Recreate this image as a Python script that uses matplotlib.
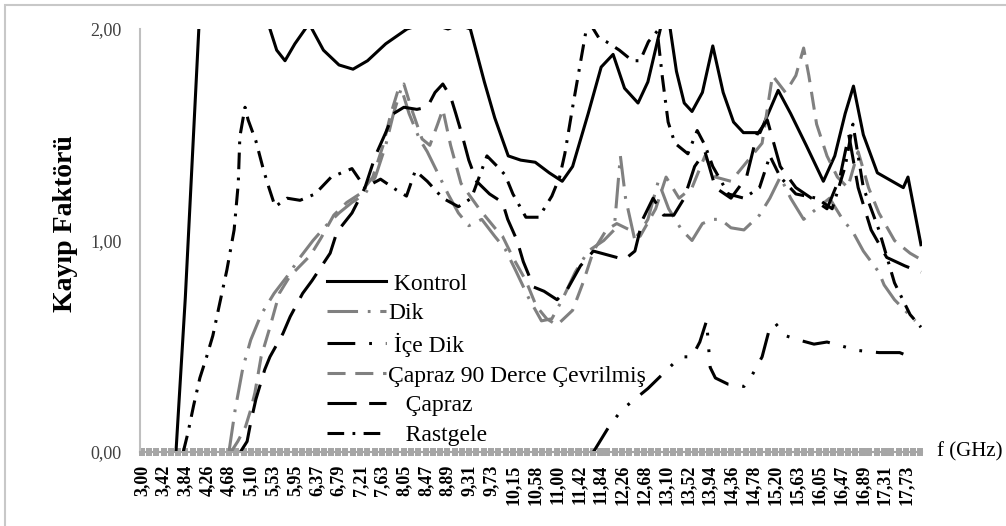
import matplotlib
matplotlib.use("Agg")
import matplotlib.pyplot as plt
from matplotlib.ticker import MultipleLocator
from matplotlib.patches import Rectangle

# values (frequency in GHz, loss factor)
kontrol_f = [3.66, 3.84, 4.10, 4.30, 4.80, 5.20, 5.47, 5.60, 5.76, 5.95,
             6.15, 6.22, 6.28, 6.50, 6.80, 7.07, 7.35, 7.70, 8.11, 8.50,
             8.90, 9.10, 9.33, 9.60, 9.80, 10.06, 10.30, 10.58, 10.85, 11.10,
             11.30, 11.60, 11.85, 12.08, 12.30, 12.56, 12.75, 12.99, 13.08, 13.18,
             13.30, 13.45, 13.60, 13.80, 14.00, 14.20, 14.40, 14.59, 14.91, 15.26,
             15.50, 15.80, 16.13, 16.35, 16.55, 16.71, 16.90, 17.17, 17.67, 17.76,
             18.01]
kontrol_v = [0.00, 0.73, 2.00, 2.60, 2.60, 2.30, 2.00, 1.90, 1.85, 1.93,
             2.00, 2.03, 2.00, 1.90, 1.83, 1.81, 1.85, 1.93, 2.00, 2.03,
             2.00, 2.02, 2.00, 1.75, 1.58, 1.40, 1.38, 1.37, 1.32, 1.28,
             1.35, 1.60, 1.82, 1.88, 1.72, 1.65, 1.75, 2.00, 2.10, 2.00,
             1.80, 1.65, 1.61, 1.70, 1.92, 1.70, 1.56, 1.51, 1.51, 1.71,
             1.60, 1.45, 1.28, 1.40, 1.60, 1.73, 1.50, 1.32, 1.25, 1.30,
             0.98]

dik_f = [4.68, 4.80, 4.95, 5.10, 5.30, 5.55, 5.80, 6.05, 6.30, 6.55,
         6.80, 7.05, 7.30, 7.50, 7.70, 7.85, 8.00, 8.15, 8.35, 8.50,
         8.70, 8.90, 9.10, 9.30, 9.55, 9.80, 10.00, 10.20, 10.45, 10.70,
         10.90, 11.10, 11.35, 11.60, 11.90, 12.10, 12.22, 12.32, 12.50, 12.75,
         12.95, 13.15, 13.40, 13.60, 13.80, 14.00, 14.15, 14.35, 14.60, 14.90,
         15.10, 15.30, 15.50, 15.75, 16.00, 16.25, 16.50, 16.70, 16.90, 17.20,
         17.30, 17.50, 17.90]
dik_v = [0.00, 0.20, 0.40, 0.53, 0.65, 0.75, 0.83, 0.92, 1.00, 1.07,
         1.13, 1.18, 1.22, 1.30, 1.45, 1.60, 1.72, 1.60, 1.48, 1.42,
         1.32, 1.22, 1.13, 1.07, 1.10, 1.02, 0.96, 0.86, 0.73, 0.62,
         0.63, 0.72, 0.85, 0.95, 1.00, 1.05, 1.40, 1.20, 1.00, 1.10,
         1.28, 1.15, 1.05, 1.00, 1.08, 1.10, 1.10, 1.06, 1.05, 1.12,
         1.20, 1.30, 1.20, 1.10, 1.15, 1.20, 1.10, 1.04, 0.95, 0.85,
         0.79, 0.72, 0.62]

ice_dik_f = [11.70, 11.85, 12.00, 12.25, 12.50, 12.75, 13.00, 13.25, 13.45, 13.60,
             13.75, 13.88, 13.95, 14.05, 14.30, 14.60, 14.75, 14.95, 15.10, 15.20,
             15.40, 15.65, 15.95, 16.20, 16.50, 16.80, 17.20, 17.60, 17.90]
ice_dik_v = [0.00, 0.06, 0.12, 0.20, 0.25, 0.30, 0.36, 0.42, 0.45, 0.45,
             0.52, 0.62, 0.40, 0.35, 0.32, 0.31, 0.36, 0.45, 0.59, 0.61,
             0.55, 0.53, 0.51, 0.52, 0.50, 0.48, 0.47, 0.47, 0.44]

capraz90_f = [4.72, 4.85, 5.00, 5.10, 5.18, 5.30, 5.47, 5.65, 5.85, 6.05,
              6.25, 6.45, 6.70, 6.95, 7.20, 7.45, 7.65, 7.80, 7.95, 8.05,
              8.20, 8.40, 8.55, 8.70, 8.80, 8.95, 9.15, 9.50, 9.80, 9.95,
              10.15, 10.40, 10.60, 10.80, 11.00, 11.30, 11.50, 11.70, 11.95, 12.15,
              12.40, 12.60, 12.90, 13.10, 13.35, 13.60, 13.85, 14.05, 14.35, 14.65,
              14.95, 15.15, 15.40, 15.60, 15.75, 15.85, 16.00, 16.20, 16.40, 16.60,
              16.80, 17.00, 17.20, 17.50, 17.80, 18.01]
capraz90_v = [0.00, 0.05, 0.12, 0.20, 0.28, 0.45, 0.59, 0.75, 0.83, 0.88,
              0.93, 1.01, 1.12, 1.18, 1.22, 1.30, 1.45, 1.60, 1.72, 1.74,
              1.62, 1.48, 1.45, 1.55, 1.62, 1.45, 1.27, 1.15, 1.06, 1.02,
              0.92, 0.81, 0.69, 0.63, 0.60, 0.67, 0.80, 0.95, 1.05, 1.08,
              1.05, 1.02, 1.15, 1.30, 1.20, 1.25, 1.40, 1.30, 1.28, 1.37,
              1.46, 1.78, 1.70, 1.78, 1.91, 1.78, 1.55, 1.40, 1.30, 1.25,
              1.42, 1.25, 1.13, 1.00, 0.94, 0.91]

capraz_f = [4.90, 5.03, 5.10, 5.20, 5.37, 5.47, 5.72, 5.86, 6.10, 6.28,
            6.63, 6.76, 7.05, 7.30, 7.50, 7.70, 7.85, 8.05, 8.30, 8.50,
            8.65, 8.80, 8.95, 9.05, 9.17, 9.30, 9.45, 9.70, 9.95, 10.05,
            10.23, 10.35, 10.55, 10.75, 11.00, 11.20, 11.45, 11.70, 12.00, 12.30,
            12.50, 12.65, 12.85, 13.05, 13.25, 13.45, 13.65, 13.85, 14.05, 14.35,
            14.65, 14.85, 15.05, 15.30, 15.60, 15.90, 16.20, 16.45, 16.62, 16.80,
            17.05, 17.35, 17.70, 18.01]
capraz_v = [0.00, 0.05, 0.14, 0.25, 0.39, 0.45, 0.56, 0.64, 0.75, 0.81,
            0.94, 1.04, 1.13, 1.25, 1.40, 1.51, 1.60, 1.63, 1.62, 1.63,
            1.70, 1.74, 1.68, 1.60, 1.50, 1.38, 1.28, 1.22, 1.18, 1.10,
            1.00, 0.90, 0.78, 0.76, 0.72, 0.77, 0.88, 0.95, 0.93, 0.91,
            0.95, 1.10, 1.20, 1.12, 1.12, 1.20, 1.35, 1.42, 1.25, 1.20,
            1.30, 1.50, 1.57, 1.35, 1.25, 1.20, 1.15, 1.30, 1.50, 1.25,
            1.05, 0.92, 0.88, 0.85]

rastgele_f = [3.80, 3.89, 4.00, 4.12, 4.25, 4.37, 4.50, 4.64, 4.78, 4.86,
              4.89, 4.99, 5.05, 5.20, 5.35, 5.45, 5.57, 5.80, 6.05, 6.34,
              6.65, 7.05, 7.30, 7.60, 7.90, 8.10, 8.27, 8.50, 8.80, 9.10,
              9.35, 9.50, 9.65, 9.85, 10.00, 10.15, 10.40, 10.65, 10.90, 11.05,
              11.15, 11.30, 11.45, 11.55, 11.65, 11.80, 11.95, 12.20, 12.45, 12.60,
              12.76, 12.93, 13.03, 13.14, 13.27, 13.52, 13.70, 13.85, 14.00, 14.30,
              14.60, 14.90, 15.10, 15.30, 15.60, 16.00, 16.30, 16.55, 16.70, 16.90,
              17.20, 17.50, 17.80, 18.01]
rastgele_v = [0.00, 0.09, 0.22, 0.35, 0.45, 0.55, 0.70, 0.86, 1.05, 1.27,
              1.49, 1.63, 1.57, 1.47, 1.33, 1.25, 1.16, 1.20, 1.19, 1.22,
              1.30, 1.34, 1.25, 1.29, 1.24, 1.21, 1.33, 1.28, 1.20, 1.16,
              1.20, 1.30, 1.40, 1.35, 1.31, 1.22, 1.11, 1.11, 1.21, 1.30,
              1.41, 1.63, 1.84, 1.98, 2.02, 1.96, 1.94, 1.90, 1.85, 1.85,
              1.94, 1.99, 1.77, 1.56, 1.46, 1.41, 1.52, 1.45, 1.35, 1.22,
              1.20, 1.25, 1.40, 1.30, 1.22, 1.20, 1.15, 1.35, 1.55, 1.25,
              1.05, 0.80, 0.65, 0.59]

x_labels = ["3,00", "3,42", "3,84", "4,26", "4,68", "5,10", "5,53", "5,95", "6,37",
            "6,79", "7,21", "7,63", "8,05", "8,47", "8,89", "9,31", "9,73", "10,15",
            "10,58", "11,00", "11,42", "11,84", "12,26", "12,68", "13,10", "13,52",
            "13,94", "14,36", "14,78", "15,20", "15,63", "16,05", "16,47", "16,89",
            "17,31", "17,73"]
y_labels = ["0,00", "1,00", "2,00"]

plt.rcParams['font.family'] = ['Liberation Serif', 'DejaVu Serif']
plt.rcParams['lines.scale_dashes'] = False

fig = plt.figure(figsize=(10.06, 5.26), dpi=100)
ax = fig.add_axes([140 / 1006, 1 - 452 / 526, 782 / 1006, 423 / 526])

lw = 2.2
ax.plot(kontrol_f, kontrol_v, color='black', lw=lw, label=' Kontrol')
ax.plot(dik_f, dik_v, color='#808080', lw=lw, dashes=(22, 7, 2, 7), label='Dik')
ax.plot(ice_dik_f, ice_dik_v, color='black', lw=lw, dashes=(20, 10, 2, 10, 2, 10), label=' İçe Dik')
ax.plot(capraz90_f, capraz90_v, color='#808080', lw=lw, dashes=(13, 7), label='Çapraz 90 Derce Çevrilmiş')
ax.plot(capraz_f, capraz_v, color='black', lw=lw, dashes=(21, 9), label='   Çapraz')
ax.plot(rastgele_f, rastgele_v, color='black', lw=lw, dashes=(12, 6, 2, 6), label='   Rastgele')

ax.set_xlim(2.967, 18.03)
ax.set_ylim(0, 2)

# x axis: labelled every third category, tick at every category
x_pos = [float(s.replace(',', '.')) for s in x_labels]
ax.set_xticks(x_pos)
ax.set_xticklabels(x_labels, rotation=90, fontweight='bold', fontsize=13)
ax.xaxis.set_minor_locator(MultipleLocator(15 / 107, offset=3))
ax.tick_params(axis='x', which='both', direction='inout', length=6, width=4.3,
               color='#a6a6a6', pad=6)

ax.set_yticks([float(s.replace(',', '.')) for s in y_labels])
ax.set_yticklabels(y_labels)
ax.tick_params(axis='y', length=0, pad=13, labelsize=13, labelcolor='#404040')

for side in ['top', 'right']:
    ax.spines[side].set_visible(False)
ax.spines['left'].set_color('#bfbfbf')
ax.spines['left'].set_linewidth(1.5)
ax.spines['bottom'].set_color('#a6a6a6')
ax.spines['bottom'].set_linewidth(1.5)

ax.legend(loc='upper left', bbox_to_anchor=(327 / 1006, 1 - 273 / 526),
          bbox_transform=fig.transFigure, frameon=False, fontsize=17,
          handlelength=2.5, handletextpad=0.08, labelspacing=0.35,
          borderpad=0, borderaxespad=0)

fig.text(65 / 1006, 1 - 224 / 526, 'Kayıp Faktörü', rotation=90, fontsize=20,
         fontweight='bold', ha='center', va='center')
fig.text(937 / 1006, 1 - 452 / 526, 'f (GHz)', fontsize=15, ha='left', va='center')

# light chart-area frame
fig.add_artist(Rectangle((5 / 1006, -0.1), 1.1, 1.1 - 5 / 526, fill=False,
                         ec='#c8c8c8', lw=1.5, transform=fig.transFigure))

fig.savefig('out.png', dpi=100)
